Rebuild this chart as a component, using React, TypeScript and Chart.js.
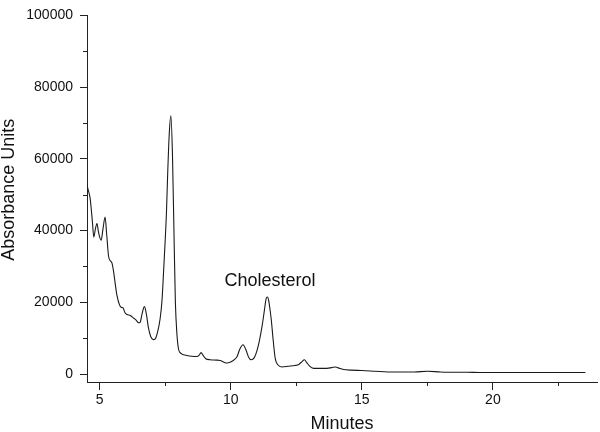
import React, { useEffect, useRef } from "react";
import { Chart, registerables } from "chart.js";

Chart.register(...registerables);

// Retention time (minutes)
const minutes = [
  4.51, 4.56, 4.64, 4.72, 4.78, 4.84, 4.9, 4.96, 5.06, 5.13, 5.21, 5.27, 5.34, 5.42, 5.47, 5.53,
  5.6, 5.66, 5.76, 5.83, 5.89, 5.97, 6.05, 6.16, 6.25, 6.32, 6.4, 6.48, 6.55, 6.62, 6.71, 6.79,
  6.86, 6.95, 7.05, 7.12, 7.22, 7.31, 7.38, 7.44, 7.5, 7.55, 7.6, 7.66, 7.72, 7.78, 7.84, 7.89,
  7.95, 8.01, 8.08, 8.2, 8.33, 8.5, 8.71, 8.8, 8.87, 8.95, 9.05, 9.22, 9.45, 9.6, 9.75, 9.85,
  10.0, 10.15, 10.25, 10.35, 10.47, 10.58, 10.68, 10.78, 10.9, 11.0, 11.1, 11.2, 11.28, 11.35,
  11.4, 11.45, 11.5, 11.55, 11.62, 11.7, 11.8, 11.95, 12.2, 12.45, 12.6, 12.72, 12.81, 12.9,
  13.0, 13.16, 13.4, 13.67, 13.85, 13.99, 14.15, 14.3, 14.6, 15.0, 15.5, 16.0, 16.5, 17.0,
  17.5, 18.0, 18.5, 19.0, 19.5, 20.0, 21.0, 22.0, 23.0, 23.53,
];

// Detector response (absorbance units)
const absorbance = [
  53000, 51500, 49000, 43000, 38200, 40500, 42000, 39500, 37300, 40500, 43800, 39000, 33000, 31500, 31000, 28800,
  25000, 22000, 19300, 18600, 18500, 17100, 16600, 16400, 15900, 15500, 15000, 14300, 14500, 16800, 18800, 16500,
  13000, 10500, 9600, 9800, 12000, 15500, 20500, 28500, 37000, 45000, 56500, 67400, 72000, 61000, 38300, 20200,
  11100, 7000, 5900, 5400, 5200, 5000, 4900, 5300, 6000, 5200, 4300, 4000, 3900, 3800, 3300, 3100,
  3400, 4100, 5000, 7000, 8200, 6800, 4800, 4000, 4600, 6500, 9500, 13500, 17500, 21000,
  21500, 20500, 18000, 15000, 9500, 4300, 2600, 2000, 2200, 2400, 2700, 3500, 4000, 3200,
  2300, 1600, 1600, 1600, 1800, 2000, 1600, 1300, 1100, 1000, 800, 600, 600, 600,
  800, 600, 500, 500, 450, 450, 450, 450, 450, 450,
];

const xMajorTicks = [5, 10, 15, 20];
const xMinorTicks = [7.5, 12.5, 17.5, 22.5];
const yMajorTicks = [0, 20000, 40000, 60000, 80000, 100000];
const yMinorTicks = [10000, 30000, 50000, 70000, 90000];

const xTitle = "Minutes";
const yTitle = "Absorbance Units";
const yTitleCenterValue = 51400;

const peakName = "Cholesterol";
const peakLabelMinute = 11.5;
const peakLabelAbsorbance = 26000;

const FONT = '"Liberation Sans", Arial, Helvetica, sans-serif';
const AXIS = "#222222";
const TEXT = "#111111";

const extras = {
  id: "extras",
  afterDraw(chart: any) {
    const { ctx } = chart;
    const xs = chart.scales.x;
    const ys = chart.scales.y;
    ctx.save();
    ctx.strokeStyle = AXIS;
    ctx.lineWidth = 1;
    ctx.beginPath();
    for (const v of xMinorTicks) {
      const px = Math.round(xs.getPixelForValue(v)) + 0.5;
      ctx.moveTo(px, xs.top);
      ctx.lineTo(px, xs.top + 4);
    }
    for (const v of yMinorTicks) {
      const py = Math.round(ys.getPixelForValue(v)) + 0.5;
      ctx.moveTo(ys.right, py);
      ctx.lineTo(ys.right - 4, py);
    }
    ctx.stroke();
    ctx.font = `18px ${FONT}`;
    ctx.fillStyle = TEXT;
    ctx.textAlign = "center";
    ctx.textBaseline = "middle";
    ctx.fillText(
      peakName,
      xs.getPixelForValue(peakLabelMinute),
      ys.getPixelForValue(peakLabelAbsorbance)
    );
    // y-axis title
    ctx.translate(ys.left + 9, ys.getPixelForValue(yTitleCenterValue));
    ctx.rotate(-Math.PI / 2);
    ctx.fillText(yTitle, 0, 0);
    ctx.restore();
  },
};

export default function App() {
  const ref = useRef<HTMLCanvasElement | null>(null);

  useEffect(() => {
    if (!ref.current) return;
    const chart = new Chart(ref.current, {
      type: "line",
      data: {
        datasets: [
          {
            data: minutes.map((m, i) => ({ x: m, y: absorbance[i] })),
            borderColor: "#1a1a1a",
            borderWidth: 1.1,
            pointRadius: 0,
            fill: false,
            cubicInterpolationMode: "monotone",
          },
        ],
      },
      options: {
        animation: false,
        responsive: false,
        maintainAspectRatio: false,
        layout: { padding: { top: 7, right: 3, left: 0, bottom: 0 } },
        plugins: { legend: { display: false }, tooltip: { enabled: false } },
        scales: {
          x: {
            type: "linear",
            min: 4.52,
            max: 23.97,
            afterBuildTicks: (s: any) => {
              s.ticks = xMajorTicks.map((v) => ({ value: v }));
            },
            afterFit: (s: any) => {
              s.height = 50;
            },
            grid: {
              drawOnChartArea: false,
              drawTicks: true,
              tickLength: 8,
              color: AXIS,
              tickColor: AXIS,
            },
            border: { display: true, color: AXIS, width: 1 },
            ticks: {
              font: { family: FONT, size: 14 },
              color: TEXT,
              padding: 2,
              maxRotation: 0,
              autoSkip: false,
              callback: (v: any) => String(v),
            },
            title: {
              display: true,
              text: xTitle,
              color: TEXT,
              font: { family: FONT, size: 18, lineHeight: 1 },
              padding: { top: 0, bottom: -1 },
            },
          },
          y: {
            type: "linear",
            min: -2200,
            max: 100000,
            afterBuildTicks: (s: any) => {
              s.ticks = yMajorTicks.map((v) => ({ value: v }));
            },
            afterFit: (s: any) => {
              s.width = 87;
            },
            grid: {
              drawOnChartArea: false,
              drawTicks: true,
              tickLength: 7,
              color: AXIS,
              tickColor: AXIS,
            },
            border: { display: true, color: AXIS, width: 1 },
            ticks: {
              font: { family: FONT, size: 14 },
              color: TEXT,
              padding: 7,
              autoSkip: false,
              callback: (v: any) => String(v),
            },
          },
        },
      },
      plugins: [extras],
    });
    return () => chart.destroy();
  }, []);

  return (
    <div style={{ position: "fixed", left: 0, top: 0, width: 600, height: 432, background: "#fff" }}>
      <canvas ref={ref} width={600} height={432} style={{ display: "block" }} />
    </div>
  );
}
